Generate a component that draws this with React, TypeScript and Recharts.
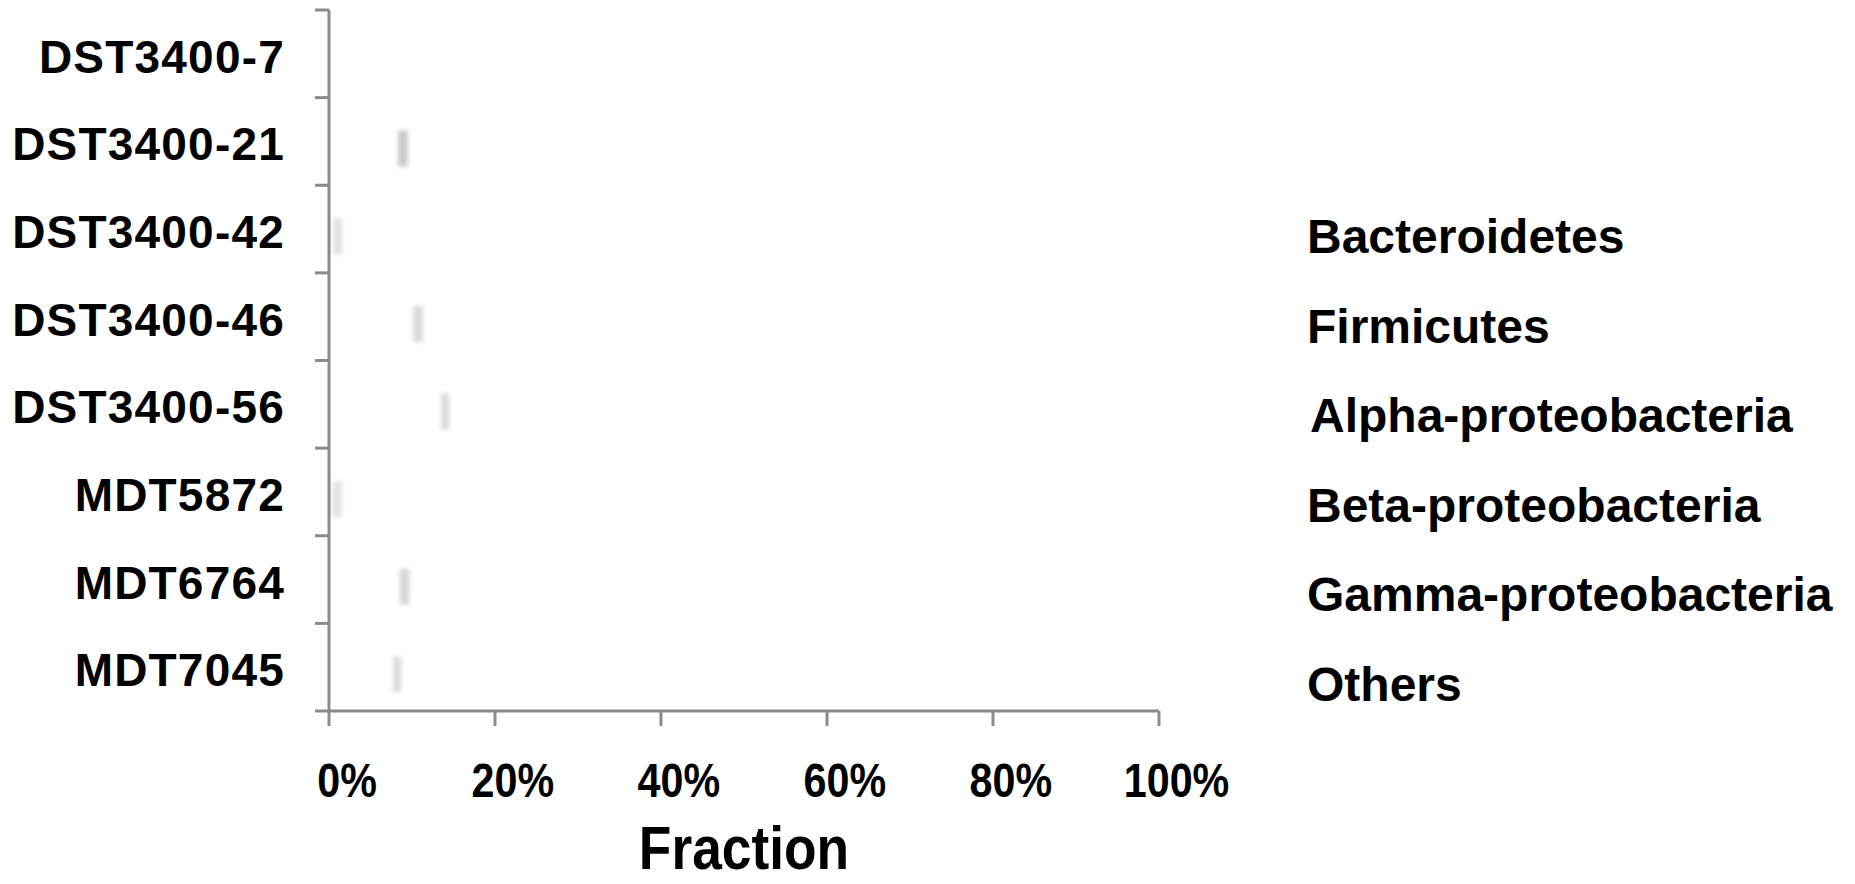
import { BarChart, Bar, XAxis, YAxis, Legend, Cell } from "recharts";

const CATEGORIES = [
	"DST3400-7",
	"DST3400-21",
	"DST3400-42",
	"DST3400-46",
	"DST3400-56",
	"MDT5872",
	"MDT6764",
	"MDT7045",
];

const SERIES = [
	"Bacteroidetes",
	"Firmicutes",
	"Alpha-proteobacteria",
	"Beta-proteobacteria",
	"Gamma-proteobacteria",
	"Others",
];

// only the first two stacked segments leave any trace in the picture
const BACTEROIDETES = [0, 8.3, 0.5, 10.1, 13.5, 0.4, 8.5, 7.7];
const FIRMICUTES = [0, 1.2, 1.1, 1.2, 1.0, 1.2, 1.2, 1.0];

const X_TICKS = [0, 20, 40, 60, 80, 100];

const W = 1855;
const H = 884;
const TOP = 10;
const BOTTOM_AXIS = 711;
const HALF_BAND = (BOTTOM_AXIS - TOP) / CATEGORIES.length / 2;
const AXIS = "#8a8a8a";
const FONT = "'Liberation Sans', Arial, sans-serif";
const SHADES = ["#d4d4d4", "#c9c9c9", "#e2e2e2", "#dadada", "#dadada", "#e4e4e4", "#d8d8d8", "#dcdcdc"];

const data = CATEGORIES.map((name, i) => ({
	name,
	bacteroidetes: BACTEROIDETES[i],
	firmicutes: FIRMICUTES[i],
}));

function CategoryTick(props: any) {
	const { x, y, payload, index } = props;
	return (
		<g>
			<line x1={x - 14} x2={x} y1={y - HALF_BAND} y2={y - HALF_BAND} stroke={AXIS} strokeWidth={3} />
			{index === CATEGORIES.length - 1 && (
				<line x1={x - 14} x2={x} y1={y + HALF_BAND} y2={y + HALF_BAND} stroke={AXIS} strokeWidth={3} />
			)}
			<text
				x={x - 44}
				y={y + 19}
				textAnchor="end"
				fontFamily={FONT}
				fontWeight="bold"
				fontSize={46}
				letterSpacing={1.2}
				fill="#000"
			>
				{payload.value}
			</text>
		</g>
	);
}

// narrow bold look: squeeze Liberation Sans horizontally
function PercentTick(props: any) {
	const { x, y, payload } = props;
	const digits = String(payload.value);
	const half = (digits.length * 23.5) / 2;
	return (
		<text
			transform={`translate(${x - half},${y + 71}) scale(0.86,1)`}
			textAnchor="start"
			fontFamily={FONT}
			fontWeight="bold"
			fontSize={48}
			fill="#000"
		>
			{digits}%
		</text>
	);
}

function Mark(props: any) {
	const { x, y, width, height, fill } = props;
	if (!width || width <= 0) return null;
	return <rect x={x} y={y + 7} width={width} height={height} fill={fill} style={{ filter: "blur(2px)" }} />;
}

function LegendList() {
	return (
		<div>
			{SERIES.map((s) => (
				<div
					key={s}
					style={{
						height: 89.5,
						lineHeight: "89.5px",
						fontFamily: FONT,
						fontWeight: "bold",
						fontSize: 48,
						color: "#000",
						whiteSpace: "nowrap",
						paddingLeft: s.startsWith("Alpha") ? 3 : 0,
					}}
				>
					{s}
				</div>
			))}
		</div>
	);
}

export default function App() {
	return (
		<div style={{ position: "absolute", left: 0, top: 0, width: W, height: H, background: "#fff" }}>
			<BarChart
				width={W}
				height={H}
				data={data}
				layout="vertical"
				barSize={36}
				margin={{ top: TOP, right: W - 1159, bottom: 0, left: 0 }}
			>
				<XAxis
					type="number"
					domain={[0, 100]}
					ticks={X_TICKS}
					height={H - BOTTOM_AXIS}
					axisLine={{ stroke: AXIS, strokeWidth: 3 }}
					tickLine={{ stroke: AXIS, strokeWidth: 3 }}
					tickSize={15}
					tickMargin={0}
					tick={<PercentTick />}
					label={{
						content: (p: any) => {
							const vb = p.viewBox;
							return (
								<text
									transform={`translate(${vb.x + vb.width / 2},${vb.y + 158}) scale(0.86,1)`}
									textAnchor="middle"
									fontFamily={FONT}
									fontWeight="bold"
									fontSize={62}
									fill="#000"
								>
									Fraction
								</text>
							);
						},
					}}
				/>
				<YAxis
					type="category"
					dataKey="name"
					width={329}
					axisLine={{ stroke: AXIS, strokeWidth: 3 }}
					tickLine={false}
					tickSize={0}
					tickMargin={0}
					interval={0}
					tick={<CategoryTick />}
				/>
				<Legend
					layout="vertical"
					align="center"
					verticalAlign="middle"
					wrapperStyle={{ left: 1307, top: 192, width: 548 }}
					content={() => <LegendList />}
				/>
				<Bar dataKey="bacteroidetes" stackId="a" fill="transparent" isAnimationActive={false} />
				<Bar dataKey="firmicutes" stackId="a" shape={<Mark />} isAnimationActive={false}>
					{data.map((d, i) => (
						<Cell key={d.name} fill={SHADES[i]} />
					))}
				</Bar>
			</BarChart>
		</div>
	);
}
